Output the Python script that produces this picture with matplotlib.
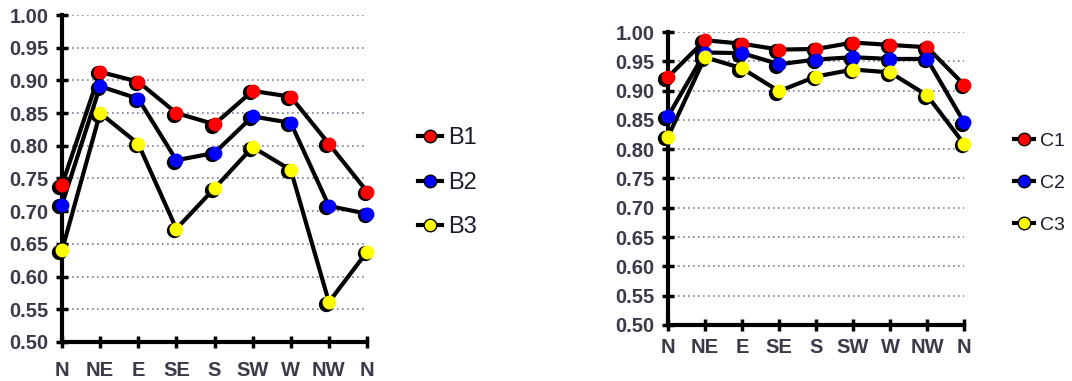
import matplotlib
matplotlib.use('Agg')
import matplotlib.pyplot as plt
import matplotlib.transforms as mtransforms
from matplotlib.lines import Line2D

directions = ['N', 'NE', 'E', 'SE', 'S', 'SW', 'W', 'NW', 'N']

b1 = [0.74, 0.913, 0.898, 0.850, 0.833, 0.884, 0.875, 0.803, 0.730]
b2 = [0.71, 0.891, 0.872, 0.778, 0.789, 0.845, 0.835, 0.708, 0.696]
b3 = [0.64, 0.850, 0.803, 0.673, 0.735, 0.798, 0.763, 0.561, 0.638]

c1 = [0.923, 0.986, 0.980, 0.970, 0.971, 0.982, 0.978, 0.974, 0.910]
c2 = [0.856, 0.965, 0.964, 0.945, 0.953, 0.957, 0.954, 0.954, 0.846]
c3 = [0.821, 0.957, 0.938, 0.899, 0.924, 0.936, 0.931, 0.892, 0.809]

y_ticks = [0.50, 0.55, 0.60, 0.65, 0.70, 0.75, 0.80, 0.85, 0.90, 0.95, 1.00]
colors = ['#ff0000', '#0000ff', '#ffff00']
label_color = '#3a3a48'

plt.rcParams['font.family'] = ['Liberation Sans', 'DejaVu Sans']

fig = plt.figure(figsize=(10.72, 3.81), dpi=100)
ax_l = fig.add_axes([0.0578, 0.1024, 0.2846, 0.8582])
ax_r = fig.add_axes([0.6231, 0.147, 0.2762, 0.769])


def draw_panel(ax, series, names, leg_anchor, leg_size, leg_space, xpad):
    x = list(range(len(directions)))
    shadow = mtransforms.offset_copy(ax.transData, fig=fig, x=-2.5, y=-1.5, units='dots')
    handles = []
    for vals, col, name in zip(series, colors, names):
        ax.plot(x, vals, color='black', lw=3, zorder=3, clip_on=False)
        ax.plot(x, vals, ls='none', marker='o', ms=10, color='black',
                transform=shadow, zorder=4, clip_on=False)
        ax.plot(x, vals, ls='none', marker='o', ms=9, mfc=col, mec=col,
                zorder=5, clip_on=False)
        handles.append(Line2D([], [], color='black', lw=3, marker='o', ms=9,
                              mfc=col, mec='black', label=name))
    ax.set_xlim(0, 8)
    ax.set_ylim(0.5, 1.0)
    ax.set_xticks(x)
    ax.set_xticklabels(directions)
    ax.set_yticks(y_ticks)
    ax.set_yticklabels([f'{v:.2f}' for v in y_ticks])
    ax.yaxis.grid(True, ls=(0, (1, 2)), color='#7a7aa0', lw=1.2)
    ax.set_axisbelow(True)
    for side in ['top', 'right']:
        ax.spines[side].set_visible(False)
    for side in ['left', 'bottom']:
        ax.spines[side].set_linewidth(3)
    ax.tick_params(direction='inout', length=9, width=2.5, colors='black',
                   labelcolor=label_color, labelsize=14.5)
    ax.tick_params(axis='y', pad=5)
    ax.tick_params(axis='x', pad=xpad)
    for lab in ax.get_xticklabels() + ax.get_yticklabels():
        lab.set_fontweight('bold')
    leg = fig.legend(handles=handles, loc='center left', bbox_to_anchor=leg_anchor,
                     frameon=False, handlelength=1.0, handletextpad=0.3,
                     labelspacing=leg_space, prop={'size': leg_size})
    for t in leg.get_texts():
        t.set_color('#1a1a2a')
    return leg


draw_panel(ax_l, [b1, b2, b3], ['B1', 'B2', 'B3'], (0.37, 0.52), 17, 0.95, 9)
draw_panel(ax_r, [c1, c2, c3], ['C1', 'C2', 'C3'], (0.93, 0.52), 14, 1.25, 5)

fig.savefig('out.png', dpi=100)
